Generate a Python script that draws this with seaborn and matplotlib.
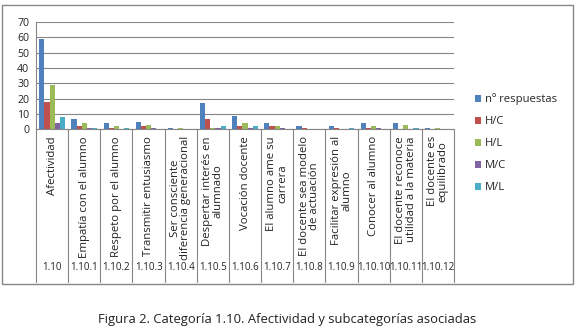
import matplotlib
matplotlib.use("Agg")
import matplotlib.pyplot as plt
import matplotlib.transforms as mtransforms
from matplotlib.patches import Rectangle
import seaborn as sns
import pandas as pd

categories = [
    "Afectividad",
    "Empatía con el alumno",
    "Respeto por el alumno",
    "Transmitir entusiasmo",
    "Ser consciente\ndiferencia generacional",
    "Despertar interés en\nalumnado",
    "Vocación docente",
    "El alumno ame su\ncarrera",
    "El docente sea modelo\nde actuación",
    "Facilitar expresión al\nalumno",
    "Conocer al alumno",
    "El docente reconoce\nutilidad a la materia",
    "El docente es\nequilibrado",
]
codes = ["1.10", "1.10.1", "1.10.2", "1.10.3", "1.10.4", "1.10.5", "1.10.6",
         "1.10.7", "1.10.8", "1.10.9", "1.10.10", "1.10.11", "1.10.12"]

series_names = ["nº respuestas", "H/C", "H/L", "M/C", "M/L"]
n_respuestas = [59, 7, 4, 5, 1, 17, 9, 4, 2, 2, 4, 4, 1]
h_c = [18, 2, 1, 2, 0, 7, 2, 2, 1, 1, 1, 0, 0]
h_l = [29, 4, 2, 3, 1, 1, 4, 2, 0, 0, 2, 3, 1]
m_c = [4, 1, 0, 1, 0, 1, 1, 1, 0, 0, 1, 0, 0]
m_l = [8, 1, 1, 0, 0, 2, 2, 0, 0, 1, 0, 1, 0]
colors = ["#4F81BD", "#C0504D", "#9BBB59", "#8064A2", "#4BACC6"]
caption = "Figura 2. Categoría 1.10. Afectividad y subcategorías asociadas"

rows = []
for name, vals in zip(series_names, [n_respuestas, h_c, h_l, m_c, m_l]):
    for code, v in zip(codes, vals):
        rows.append({"code": code, "serie": name, "valor": v})
df = pd.DataFrame(rows)

sns.set_theme(style="white")
plt.rcParams["font.family"] = ["Open Sans", "DejaVu Sans"]

W, H = 577, 332
fig = plt.figure(figsize=(W / 100, H / 100), dpi=100)
fig.patch.set_facecolor("white")

# outer chart box
fig.patches.append(Rectangle((2 / W, 1 - 284 / H), 571 / W, 279 / H,
                             transform=fig.transFigure, fill=False,
                             edgecolor="#868686", linewidth=1.0))

left, right, top, bottom = 36, 454, 22, 129.3
ax = fig.add_axes([left / W, 1 - bottom / H, (right - left) / W, (bottom - top) / H])

sns.barplot(data=df, x="code", y="valor", hue="serie", order=codes,
            hue_order=series_names, palette=colors, width=0.8,
            saturation=1, ax=ax, linewidth=0)

ax.set_ylim(0, 70)
ax.set_xlim(-0.5, len(codes) - 0.5)
ax.set_yticks(range(0, 71, 10))
ax.yaxis.grid(True, color="#868686", linewidth=0.8)
ax.set_axisbelow(True)
for s in ["top", "right"]:
    ax.spines[s].set_visible(False)
ax.spines["left"].set_color("#868686")
ax.spines["bottom"].set_color("#868686")
ax.spines["left"].set_linewidth(0.8)
ax.spines["bottom"].set_linewidth(0.8)
ax.tick_params(axis="y", labelsize=7.6, colors="#868686", length=3, width=0.8,
               direction="out", pad=2)
for t in ax.get_yticklabels():
    t.set_color("#222222")
ax.set_xticks([])
ax.set_xlabel("")
ax.set_ylabel("")

# multi-level category axis
trans = mtransforms.blended_transform_factory(ax.transData, fig.transFigure)
for i, (cat, code) in enumerate(zip(categories, codes)):
    ax.text(i, 1 - 136 / H, cat, transform=trans, rotation=90, ha="center",
            va="top", fontsize=8.2, color="#222222", multialignment="center",
            linespacing=0.95, clip_on=False)
    ax.text(i, 1 - 268 / H, code, transform=trans, ha="center", va="center",
            fontsize=7.0, color="#222222", clip_on=False)
for k in range(len(codes) + 1):
    ax.plot([k - 0.5, k - 0.5], [1 - bottom / H, 1 - 282 / H], transform=trans,
            color="#868686", linewidth=0.8, clip_on=False)

# legend
handles, labels = ax.get_legend_handles_labels()
ax.legend(handles, labels, loc="upper left", bbox_to_anchor=(475 / W, 1 - 93.5 / H),
          bbox_transform=fig.transFigure, frameon=False, fontsize=8.1,
          handlelength=0.55, handleheight=0.55, handletextpad=0.3,
          labelspacing=0.98, borderaxespad=0, borderpad=0)

fig.text(287 / W, 1 - 320 / H, caption, ha="center", va="center",
         fontsize=9.4, color="#222222")

fig.savefig("out.png", dpi=100)
